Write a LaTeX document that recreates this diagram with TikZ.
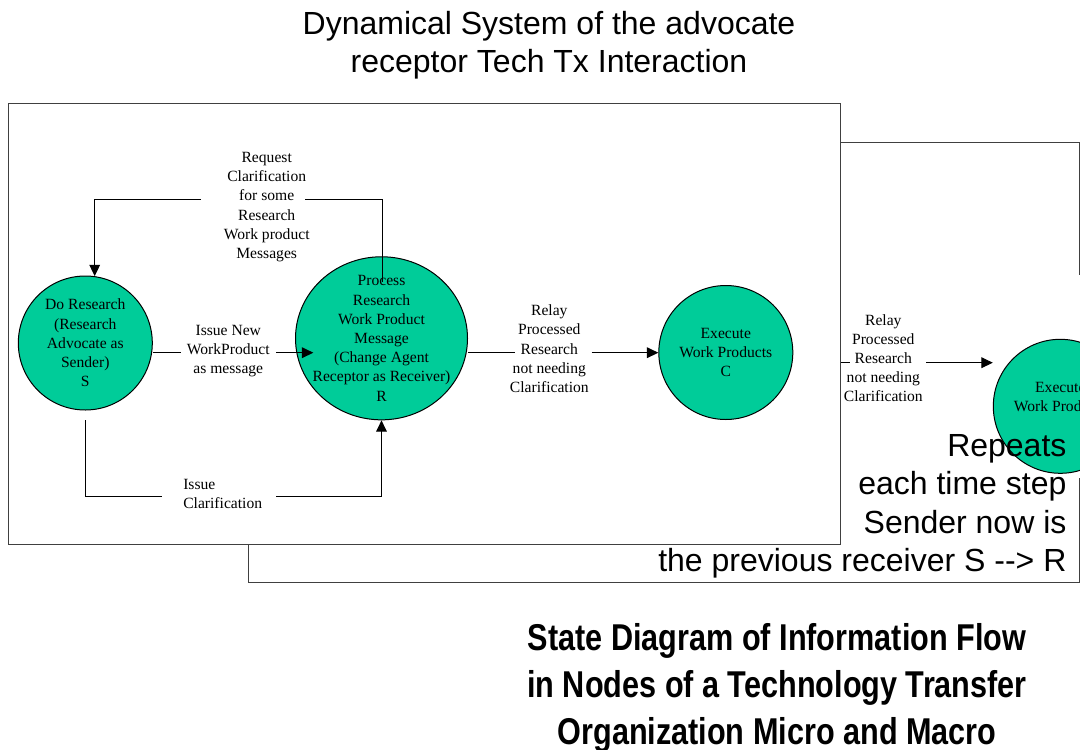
\documentclass[tikz,border=0pt]{standalone}
\usepackage{fontspec}
\setmainfont{Liberation Serif}
\newfontfamily\arialfont[Ligatures=TeXOff]{Liberation Sans}
\newfontfamily\narrowfont[FakeStretch=0.82]{Liberation Sans}
\usetikzlibrary{arrows.meta,shapes.geometric}
\definecolor{stategreen}{RGB}{0,204,153}
\definecolor{boxgray}{RGB}{64,64,64}
\begin{document}
\begin{tikzpicture}[x=0.75pt,y=-0.75pt,
  state/.style={draw=black, fill=stategreen, line width=0.75pt, inner sep=0pt},
  statetext/.style={align=center, inner sep=0pt, font=\fontsize{11.7}{14.4}\selectfont},
  lbl/.style={font=\fontsize{11.7}{14.4}\selectfont, align=center, inner sep=0pt},
  conn/.style={line width=0.75pt, draw=black},
  arr/.style={conn, -{Triangle[length=8.5pt,width=8pt]}},
  boxline/.style={line width=0.75pt, draw=boxgray},
  big/.style={font=\arialfont\fontsize{24}{28.5}\selectfont, inner sep=0pt},
]
\useasboundingbox (0,0) rectangle (1080,749);
\clip (0,0) rectangle (1080,749);

% back (repeated) frame
\draw[boxline] (841,142.3) -- (1079,142.3) -- (1079,275)
  (1079,478) -- (1079,582.5) -- (248,582.5) -- (248,544);

% front frame
\node[boxline, fill=white, rectangle, inner sep=0pt,
  minimum width=623.8pt, minimum height=330.75pt] (frame) at (424.85,324) {};

% states
\node[state, circle, minimum size=100.5pt,
  label={[statetext, name=Stext]center:Do Research\\(Research\\Advocate as\\Sender)\\S}]
  (S) at (85.3,343) {};
\node[state, ellipse, minimum width=129pt, minimum height=122.3pt,
  label={[statetext, name=Rtext]center:Process\\Research\\Work Product\\Message\\(Change Agent\\Receptor as Receiver)\\R}]
  (R) at (381.5,338.3) {};
\node[state, circle, minimum size=100.5pt,
  label={[statetext, name=Ctext]center:Execute\\Work Products\\C}]
  (C) at (725.8,352.5) {};
\node[state, circle, minimum size=100.5pt,
  label={[statetext, name=E2text]center:Execute\\Work Products\\~}]
  (E2) at (1060.3,406.3) {};

% connector end points
\coordinate (Rin) at (382,282);
\coordinate (g1) at (305,199.3);
\coordinate (g2) at (200.7,199.3);
\coordinate (sb) at (85.7,420);
\coordinate (g3) at (162.3,496.7);
\coordinate (g4) at (276.3,496.7);
\coordinate (g5) at (181,352.7);
\coordinate (g6) at (276,352.7);
\coordinate (Rin2) at (313.3,352.7);
\coordinate (g7) at (515,352.7);
\coordinate (g8) at (591.7,352.7);
\coordinate (g9) at (850,362.7);
\coordinate (g10) at (926,362.7);

% connectors
\draw[conn] (Rin) |- (g1);
\draw[arr] (g2) -| (S.82);
\draw[conn] (sb) |- (g3);
\draw[arr] (g4) -| (R.south);
\draw[conn] (S.east |- g5) -- (g5);
\draw[arr] (g6) -- (Rin2);
\draw[conn] (R.east |- g7) -- (g7);
\draw[arr] (g8) -- (g8 -| C.west);
\draw[conn] (frame.east |- g9) -- (g9);
\draw[arr] (g10) -- (g10 -| E2.west);

% connector labels (anchor = baseline of last line)
\node[lbl, anchor=base] (lreq) at (266.7,258.5)
  {Request\\Clarification\\for some\\Research\\Work product\\Messages};
\node[lbl, anchor=base] (lnew) at (228.3,373.8)
  {Issue New\\WorkProduct\\as message};
\node[lbl, anchor=base] (lrelay) at (549.3,392.5)
  {Relay\\Processed\\Research\\not needing\\Clarification};
\node[lbl, anchor=base] (lrelay2) at (883.3,401.8)
  {Relay\\Processed\\Research\\not needing\\Clarification};
\node[lbl, align=left, anchor=base west] (lclar) at (183,508.5)
  {Issue\\Clarification};

% large texts
\node[big, align=center, anchor=base] (title) at (549,73)
  {Dynamical System of the advocate\\receptor Tech Tx Interaction};
\node[big, align=right, anchor=base east, font=\arialfont\fontsize{24}{28.9}\selectfont]
  (repeat) at (1066.7,571.7)
  {Repeats\\each time step\\Sender now is\\the previous receiver S --> R};
\node[inner sep=0pt, align=center, anchor=base,
  font=\narrowfont\bfseries\fontsize{28}{35}\selectfont] (caption) at (777,744)
  {State Diagram of Information Flow\\in Nodes of a Technology Transfer\\Organization Micro and Macro};
\end{tikzpicture}
\end{document}
